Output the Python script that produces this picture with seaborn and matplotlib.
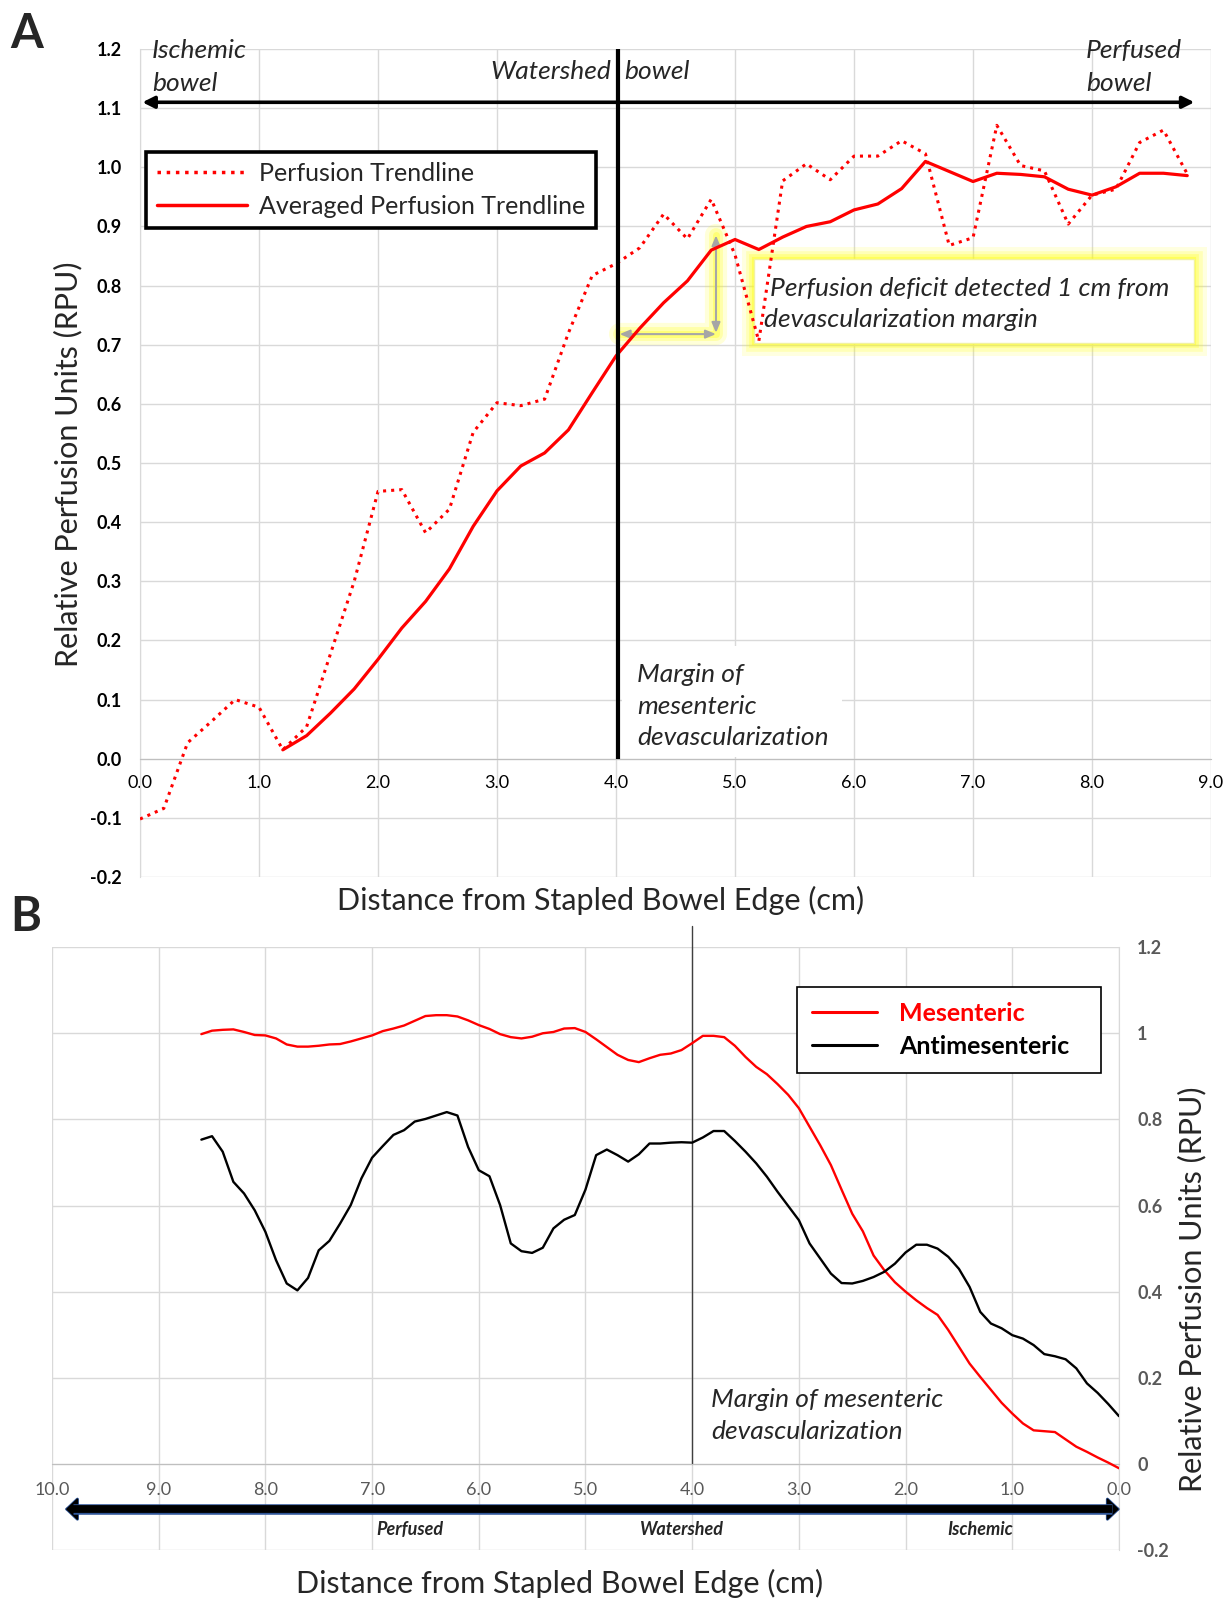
"""
Perfusion trendlines (panel A) and mesenteric vs antimesenteric perfusion (panel B)
"""

import numpy as np
import pandas as pd
import matplotlib.pyplot as plt
import matplotlib.patheffects as pe
import seaborn as sns
from matplotlib.lines import Line2D
from matplotlib.patches import Rectangle

# ---------------- data ----------------
# Panel A: distance from stapled edge (cm)
dist_a = [0.0, 0.2, 0.4, 0.6, 0.8, 1.0, 1.2, 1.4, 1.6, 1.8, 2.0, 2.2, 2.4, 2.6, 2.8,
          3.0, 3.2, 3.4, 3.6, 3.8, 4.0, 4.2, 4.4, 4.6, 4.8, 5.0, 5.2, 5.4, 5.6, 5.8,
          6.0, 6.2, 6.4, 6.6, 6.8, 7.0, 7.2, 7.4, 7.6, 7.8, 8.0, 8.2, 8.4, 8.6, 8.8]
perfusion_a = [-0.102, -0.084, 0.027, 0.063, 0.100, 0.087, 0.015, 0.054, 0.177, 0.300,
               0.452, 0.455, 0.382, 0.422, 0.552, 0.602, 0.597, 0.608, 0.720, 0.817,
               0.837, 0.864, 0.921, 0.879, 0.946, 0.852, 0.706, 0.977, 1.006, 0.979,
               1.019, 1.019, 1.045, 1.023, 0.868, 0.881, 1.071, 1.003, 0.994, 0.904,
               0.953, 0.963, 1.042, 1.063, 0.989]
dist_avg = dist_a[6:]
averaged_a = [0.015, 0.039, 0.077, 0.118, 0.168, 0.221, 0.266, 0.321, 0.393, 0.453,
              0.495, 0.517, 0.556, 0.619, 0.681, 0.728, 0.771, 0.808, 0.860, 0.878,
              0.861, 0.882, 0.900, 0.908, 0.928, 0.938, 0.964, 1.010, 0.993, 0.976,
              0.990, 0.988, 0.984, 0.963, 0.953, 0.967, 0.990, 0.990, 0.986]

# Panel B: distance (cm), 8.6 -> 0.0 in 0.1 steps
dist_b = [8.6, 8.5, 8.4, 8.3, 8.2, 8.1, 8.0, 7.9, 7.8, 7.7, 7.6, 7.5, 7.4, 7.3, 7.2, 7.1,
          7.0, 6.9, 6.8, 6.7, 6.6, 6.5, 6.4, 6.3, 6.2, 6.1, 6.0, 5.9, 5.8, 5.7, 5.6, 5.5,
          5.4, 5.3, 5.2, 5.1, 5.0, 4.9, 4.8, 4.7, 4.6, 4.5, 4.4, 4.3, 4.2, 4.1, 4.0, 3.9,
          3.8, 3.7, 3.6, 3.5, 3.4, 3.3, 3.2, 3.1, 3.0, 2.9, 2.8, 2.7, 2.6, 2.5, 2.4, 2.3,
          2.2, 2.1, 2.0, 1.9, 1.8, 1.7, 1.6, 1.5, 1.4, 1.3, 1.2, 1.1, 1.0, 0.9, 0.8, 0.7,
          0.6, 0.5, 0.4, 0.3, 0.2, 0.1, 0.0]
mesenteric = [0.998, 1.006, 1.008, 1.009, 1.003, 0.996, 0.995, 0.988, 0.974, 0.969, 0.969,
              0.971, 0.974, 0.975, 0.981, 0.988, 0.995, 1.005, 1.011, 1.018, 1.029, 1.040,
              1.042, 1.042, 1.039, 1.030, 1.019, 1.010, 0.998, 0.991, 0.988, 0.992, 1.000,
              1.003, 1.011, 1.012, 1.003, 0.986, 0.968, 0.950, 0.938, 0.933, 0.942, 0.950,
              0.953, 0.961, 0.977, 0.994, 0.994, 0.991, 0.971, 0.945, 0.922, 0.905, 0.882,
              0.857, 0.826, 0.783, 0.740, 0.694, 0.637, 0.581, 0.540, 0.484, 0.450, 0.422,
              0.400, 0.380, 0.362, 0.346, 0.311, 0.272, 0.233, 0.202, 0.172, 0.142, 0.117,
              0.094, 0.078, 0.076, 0.074, 0.057, 0.040, 0.028, 0.015, 0.003, -0.010]
antimesenteric = [0.753, 0.761, 0.725, 0.655, 0.628, 0.589, 0.539, 0.473, 0.419, 0.403,
                  0.432, 0.496, 0.518, 0.558, 0.601, 0.663, 0.711, 0.738, 0.764, 0.775,
                  0.795, 0.801, 0.809, 0.817, 0.809, 0.736, 0.682, 0.668, 0.601, 0.512,
                  0.494, 0.490, 0.502, 0.547, 0.567, 0.578, 0.637, 0.717, 0.730, 0.717,
                  0.702, 0.719, 0.744, 0.744, 0.746, 0.747, 0.746, 0.758, 0.773, 0.773,
                  0.750, 0.725, 0.698, 0.667, 0.632, 0.599, 0.566, 0.512, 0.477, 0.442,
                  0.420, 0.419, 0.425, 0.434, 0.446, 0.465, 0.491, 0.509, 0.509, 0.500,
                  0.481, 0.453, 0.411, 0.353, 0.326, 0.315, 0.299, 0.291, 0.276, 0.255,
                  0.250, 0.243, 0.222, 0.187, 0.165, 0.139, 0.111]

xticks_a = [0, 1, 2, 3, 4, 5, 6, 7, 8, 9]
yticks_a = [-0.2, -0.1, 0.0, 0.1, 0.2, 0.3, 0.4, 0.5, 0.6, 0.7, 0.8, 0.9, 1.0, 1.1, 1.2]
xticks_b = [10, 9, 8, 7, 6, 5, 4, 3, 2, 1, 0]
yticks_b = [-0.2, 0.0, 0.2, 0.4, 0.6, 0.8, 1.0, 1.2]
ytick_labels_b = ['-0.2', '0', '0.2', '0.4', '0.6', '0.8', '1', '1.2']

df_a = pd.DataFrame({'dist': dist_a, 'rpu': perfusion_a})
df_avg = pd.DataFrame({'dist': dist_avg, 'rpu': averaged_a})
df_b = pd.DataFrame({'dist': dist_b, 'mes': mesenteric, 'anti': antimesenteric})

# ---------------- style ----------------
sns.set_style("white")
plt.rcParams['font.family'] = ['Lato', 'DejaVu Sans']

red = '#FF0000'
grid_c = '#D9D9D9'
gray_txt = '#595959'
note_fs = 19

fig = plt.figure(figsize=(12.26, 15.98), dpi=100)

# ================= Panel A =================
axA = fig.add_axes([0.1142, 0.4512, 0.8736, 0.5181])
axA.set_axisbelow(True)

sns.lineplot(data=df_a, x='dist', y='rpu', ax=axA, color=red, lw=2.2,
             linestyle=':', zorder=3)
sns.lineplot(data=df_avg, x='dist', y='rpu', ax=axA, color=red, lw=2.3, zorder=3)

axA.set_xlim(0, 9)
axA.set_ylim(-0.2, 1.2)
axA.set_xticks(xticks_a)
axA.set_xticklabels([f'{v:.1f}' for v in xticks_a])
axA.set_yticks(yticks_a)
axA.set_yticklabels([f'{v:.1f}' for v in yticks_a])
axA.grid(True, color=grid_c, lw=1)
axA.tick_params(length=0, labelsize=13, colors='black')
axA.tick_params(axis='x', pad=12)
axA.tick_params(axis='y', pad=13)
for lab in axA.get_xticklabels() + axA.get_yticklabels():
    lab.set_fontweight('bold')
axA.spines['bottom'].set_position(('data', 0))
axA.spines['bottom'].set_color('#BFBFBF')
axA.spines['left'].set_color(grid_c)
axA.spines['top'].set_visible(False)
axA.spines['right'].set_visible(False)
axA.set_xlabel('')
axA.set_ylabel('')

# region arrow along the top
axA.annotate('', xy=(0.02, 1.11), xytext=(8.86, 1.11),
             arrowprops=dict(arrowstyle='<|-|>,head_length=0.7,head_width=0.35',
                             color='black', lw=2.6, shrinkA=0, shrinkB=0),
             annotation_clip=False)
axA.text(0.10, 1.197, 'Ischemic', style='italic', fontsize=note_fs, va='center')
axA.text(0.10, 1.141, 'bowel', style='italic', fontsize=note_fs, va='center')
axA.text(3.96, 1.162, 'Watershed', style='italic', fontsize=note_fs, va='center', ha='right')
axA.text(4.07, 1.162, 'bowel', style='italic', fontsize=note_fs, va='center', ha='left')
axA.text(7.95, 1.197, 'Perfused', style='italic', fontsize=note_fs, va='center')
axA.text(7.95, 1.141, 'bowel', style='italic', fontsize=note_fs, va='center')

# devascularization margin
axA.plot([4.02, 4.02], [0.0, 1.2], color='black', lw=3, zorder=4, solid_capstyle='butt')
axA.add_patch(Rectangle((4.05, 0.003), 1.85, 0.188, facecolor='white',
                        edgecolor='none', zorder=1.5))
axA.text(4.18, 0.089, 'Margin of\nmesenteric\ndevascularization', style='italic',
         fontsize=note_fs, va='center', ha='left', linespacing=1.45, zorder=2)

# perfusion deficit call-out (yellow glow box)
for lw_g, a_g in [(18, 0.12), (12, 0.18), (7, 0.25), (3, 0.35)]:
    axA.add_patch(Rectangle((5.16, 0.703), 3.70, 0.142, facecolor='none',
                            edgecolor='#FFFF00', lw=lw_g, alpha=a_g, zorder=1.6))
axA.add_patch(Rectangle((5.16, 0.703), 3.70, 0.142, facecolor='white',
                        edgecolor='#F2F2A0', lw=1, zorder=1.7))
axA.text(5.29, 0.795, 'Perfusion deficit detected 1 cm from', style='italic',
         fontsize=note_fs, va='center', ha='left', zorder=2)
axA.text(5.24, 0.742, 'devascularization margin', style='italic',
         fontsize=note_fs, va='center', ha='left', zorder=2)

for lw_g, a_g in [(16, 0.15), (10, 0.22), (5, 0.3)]:
    axA.plot([4.03, 4.84, 4.84], [0.718, 0.718, 0.885], color='#FFFF00', lw=lw_g,
             alpha=a_g, zorder=2, solid_capstyle='round', solid_joinstyle='round')
axA.annotate('', xy=(4.03, 0.718), xytext=(4.84, 0.718),
             arrowprops=dict(arrowstyle='<|-|>,head_length=0.6,head_width=0.25',
                             color='#A6A6A6', lw=1.5, shrinkA=0, shrinkB=0), zorder=2.5)
axA.annotate('', xy=(4.84, 0.885), xytext=(4.84, 0.720),
             arrowprops=dict(arrowstyle='<|-|>,head_length=0.6,head_width=0.25',
                             color='#A6A6A6', lw=1.5, shrinkA=0, shrinkB=0), zorder=2.5)

handles_a = [Line2D([], [], color=red, lw=2.5, linestyle=':'),
             Line2D([], [], color=red, lw=2.5)]
legA = axA.legend(handles_a, ['Perfusion Trendline', 'Averaged Perfusion Trendline'],
                  loc='upper left', bbox_to_anchor=(0.0057, 0.782, 0.4205, 0.094),
                  mode='expand', fontsize=18, frameon=True, fancybox=False,
                  edgecolor='black', framealpha=1, borderaxespad=0, borderpad=0.42,
                  handlelength=3.6, handletextpad=0.49, labelspacing=0.39)
legA.get_frame().set_linewidth(2.6)
legA.set_zorder(5)

fig.text(10 / 1226, 1 - 12 / 1598, 'A', fontsize=34, fontweight='bold', va='top')
fig.text(601 / 1226, 1 - 900 / 1598, 'Distance from Stapled Bowel Edge (cm)',
         fontsize=22, ha='center', va='center')
fig.text(68 / 1226, 1 - 464 / 1598, 'Relative Perfusion Units (RPU)',
         fontsize=22, ha='center', va='center', rotation=90)

# ================= Panel B =================
axB = fig.add_axes([0.0424, 0.0300, 0.8703, 0.3773])
axB.set_axisbelow(True)

sns.lineplot(data=df_b, x='dist', y='mes', ax=axB, color=red, lw=1.7, zorder=3)
sns.lineplot(data=df_b, x='dist', y='anti', ax=axB, color='black', lw=1.7, zorder=3)

axB.set_xlim(10, 0)
axB.set_ylim(-0.2, 1.2)
axB.set_xticks(xticks_b)
axB.set_xticklabels([f'{v:.1f}' for v in xticks_b])
axB.set_yticks(yticks_b)
axB.set_yticklabels(ytick_labels_b)
axB.yaxis.tick_right()
axB.grid(True, color=grid_c, lw=1)
axB.tick_params(length=0, labelsize=13, colors=gray_txt)
axB.tick_params(axis='x', pad=13)
axB.tick_params(axis='y', pad=13)
for lab in axB.get_xticklabels() + axB.get_yticklabels():
    lab.set_fontweight('bold')
axB.spines['bottom'].set_position(('data', 0))
axB.spines['bottom'].set_color('#BFBFBF')
axB.spines['right'].set_color(grid_c)
axB.spines['left'].set_visible(False)
axB.spines['top'].set_visible(False)
axB.set_xlabel('')
axB.set_ylabel('')

axB.plot([4.0, 4.0], [0.0, 1.25], color='#404040', lw=1, zorder=2.5, clip_on=False)
axB.text(3.82, 0.112, 'Margin of mesenteric\ndevascularization', style='italic',
         fontsize=note_fs, va='center', ha='left', linespacing=1.45)

# region arrow under the axis: heads from annotate, thick shaft on top
outline = [pe.Stroke(linewidth=2.2, foreground='#2F5597'), pe.Normal()]
arr = axB.annotate('', xy=(9.87, -0.105), xytext=(0.0, -0.105),
                   arrowprops=dict(arrowstyle='<|-|>,head_length=0.38,head_width=0.36',
                                   mutation_scale=20, color='black', lw=1,
                                   shrinkA=0, shrinkB=0),
                   annotation_clip=False)
arr.arrow_patch.set_path_effects(outline)
axB.plot([9.80, 0.07], [-0.105, -0.105], color='black', lw=5.6, clip_on=False,
         solid_capstyle='butt', zorder=3,
         path_effects=[pe.Stroke(linewidth=7.6, foreground='#2F5597'), pe.Normal()])
for xpos, lab in [(6.65, 'Perfused'), (4.1, 'Watershed'), (1.3, 'Ischemic')]:
    axB.text(xpos, -0.153, lab, fontsize=13, fontweight='bold', style='italic',
             ha='center', va='center')

handles_b = [Line2D([], [], color=red, lw=2.2), Line2D([], [], color='black', lw=2.2)]
legB = axB.legend(handles_b, ['Mesenteric', 'Antimesenteric'],
                  loc='upper left', bbox_to_anchor=(0.698, 0.792, 0.285, 0.142),
                  mode='expand', fontsize=18, frameon=True, fancybox=False,
                  edgecolor='black', framealpha=1, borderaxespad=0, borderpad=0.6,
                  handlelength=2.6, handletextpad=0.9, labelspacing=0.39)
legB.get_frame().set_linewidth(1.2)
for txt, col in zip(legB.get_texts(), [red, 'black']):
    txt.set_color(col)
    txt.set_fontweight('bold')

fig.text(10 / 1226, 1 - 895 / 1598, 'B', fontsize=34, fontweight='bold', va='top')
fig.text(560 / 1226, 1 - 1583 / 1598, 'Distance from Stapled Bowel Edge (cm)',
         fontsize=22, ha='center', va='center')
fig.text(1192 / 1226, 1 - 1289 / 1598, 'Relative Perfusion Units (RPU)',
         fontsize=22, ha='center', va='center', rotation=90)

plt.savefig('out.png', dpi=100)
print("Saved out.png")
